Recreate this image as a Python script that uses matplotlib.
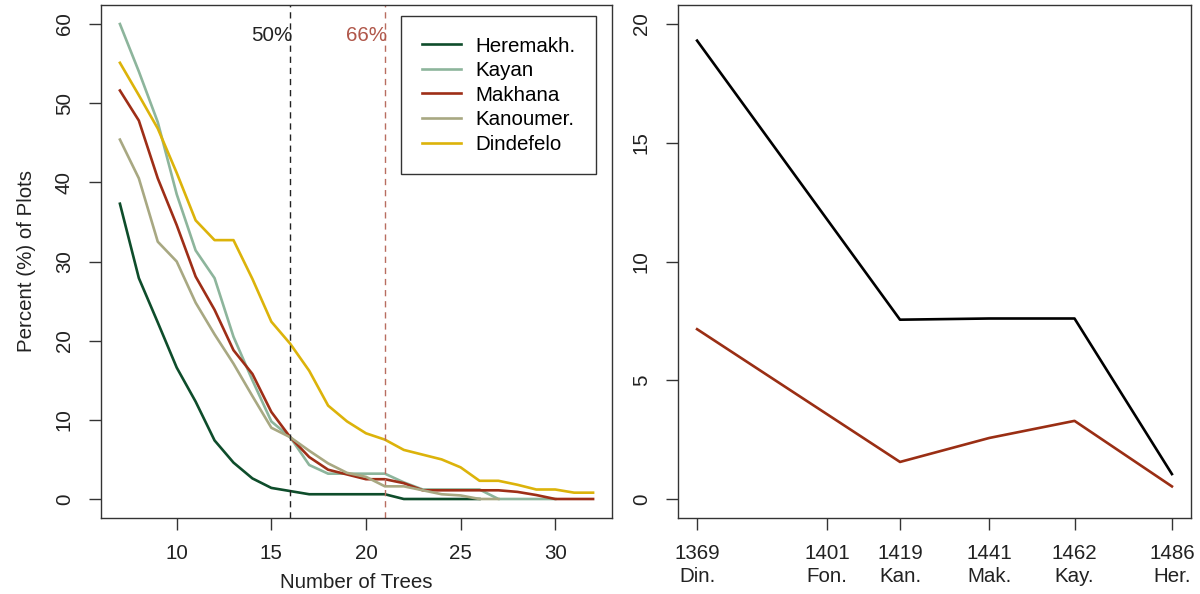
import numpy as np
import matplotlib
matplotlib.use("Agg")
import matplotlib.pyplot as plt

# =====================================
# DATA
# =====================================

trees = np.arange(7, 33)

heremakh = [37.3, 27.9, 22.3, 16.6, 12.3, 7.4, 4.6, 2.6, 1.4, 1.0,
            0.6, 0.6, 0.6, 0.6, 0.6, 0.0, 0.0, 0.0, 0.0, 0.0]
kayan = [60.0, 54.0, 47.6, 38.5, 31.4, 27.9, 20.5, 15.0, 9.8, 7.8,
         4.3, 3.2, 3.2, 3.2, 3.2, 2.1, 1.2, 1.2, 1.2, 1.2,
         0.0, 0.0, 0.0, 0.0]
makhana = [51.6, 47.8, 40.5, 34.6, 28.1, 23.9, 18.8, 15.8, 11.0, 7.8,
           5.3, 3.7, 3.1, 2.5, 2.5, 2.0, 1.1, 1.1, 1.1, 1.1,
           1.1, 0.9, 0.5, 0.0, 0.0, 0.0]
kanoumer = [45.4, 40.5, 32.5, 30.0, 24.8, 20.8, 17.1, 13.0, 9.0, 7.8,
            6.1, 4.5, 3.3, 2.8, 1.6, 1.6, 1.1, 0.6, 0.45, 0.0, 0.0]
dindefelo = [55.1, 51.0, 46.8, 41.2, 35.2, 32.7, 32.7, 27.8, 22.4, 19.6,
             16.2, 11.8, 9.8, 8.3, 7.5, 6.2, 5.6, 5.0, 4.0, 2.3,
             2.3, 1.8, 1.2, 1.2, 0.8, 0.8]

series_names = ["Heremakh.", "Kayan", "Makhana", "Kanoumer.", "Dindefelo"]
series_values = [heremakh, kayan, makhana, kanoumer, dindefelo]
series_colors = ["#0e4d2b", "#8db59c", "#9e2e17", "#a8a882", "#dcb30a"]

cut_50 = 16
cut_66 = 21

years = [1369, 1419, 1441, 1462, 1486]
upper_line = [19.3, 7.55, 7.6, 7.6, 1.05]
lower_line = [7.15, 1.56, 2.57, 3.29, 0.53]

tick_years = [1369, 1401, 1419, 1441, 1462, 1486]
tick_sites = ["Din.", "Fon.", "Kan.", "Mak.", "Kay.", "Her."]

# =====================================
# STYLE
# =====================================

plt.rcParams["font.family"] = ["Liberation Sans", "DejaVu Sans"]
fs = 14.8
edge = "#333333"

fig = plt.figure(figsize=(12, 5.94), dpi=100)
ax1 = fig.add_axes([101 / 1200, 76 / 594, 511 / 1200, 513 / 594])
ax2 = fig.add_axes([678 / 1200, 76 / 594, 513 / 1200, 513 / 594])

for ax in (ax1, ax2):
    for sp in ax.spines.values():
        sp.set_color(edge)
        sp.set_linewidth(1.0)
    ax.tick_params(axis="both", length=8.6, width=1.0, color=edge,
                   labelsize=fs, labelcolor="#222222")
    ax.tick_params(axis="x", pad=10)
    ax.tick_params(axis="y", pad=11, labelrotation=90)

# =====================================
# LEFT PANEL
# =====================================

for name, vals, col in zip(series_names, series_values, series_colors):
    ax1.plot(trees[:len(vals)], vals, color=col, lw=1.9, label=name,
             solid_joinstyle="round")

ax1.axvline(cut_50, color="#222222", lw=1.0, ls=(0, (4.5, 3.5)))
ax1.axvline(cut_66, color="#b86d60", lw=1.0, ls=(0, (4.5, 3.5)))
ax1.text(cut_50 + 0.1, 57.8, "50%", ha="right", va="baseline",
         fontsize=fs, color="#222222")
ax1.text(cut_66 + 0.1, 57.8, "66%", ha="right", va="baseline",
         fontsize=fs, color="#b0574a")

ax1.set_xlim(6, 33)
ax1.set_ylim(-2.4, 62.4)
ax1.set_xticks([10, 15, 20, 25, 30])
ax1.set_yticks([0, 10, 20, 30, 40, 50, 60])
plt.setp(ax1.get_yticklabels(), va="center")

leg = ax1.legend(loc="upper right", bbox_to_anchor=(0.9687, 0.9786),
                 borderaxespad=0, fontsize=fs, handlelength=1.9,
                 handletextpad=0.7, labelspacing=0.27, borderpad=1.0,
                 fancybox=False, framealpha=1, edgecolor=edge)
leg.get_frame().set_linewidth(1.0)

fig.text(356 / 1200, 1 - 588 / 594, "Number of Trees", ha="center",
         va="baseline", fontsize=fs, color="#222222")
fig.text(27 / 1200, 1 - 261 / 594, "Percent (%) of Plots", ha="center",
         va="center", rotation=90, fontsize=fs, color="#222222")

# =====================================
# RIGHT PANEL
# =====================================

ax2.plot(years, upper_line, color="black", lw=1.9)
ax2.plot(years, lower_line, color="#9a2e14", lw=1.9)

ax2.set_xlim(1364.3, 1490.7)
ax2.set_ylim(-0.8, 20.8)
ax2.set_xticks(tick_years)
ax2.set_xticklabels([f"{y}\n{s}" for y, s in zip(tick_years, tick_sites)],
                    linespacing=1.25)
ax2.set_yticks([0, 5, 10, 15, 20])
plt.setp(ax2.get_yticklabels(), va="center")

fig.savefig("out.png", dpi=100)
